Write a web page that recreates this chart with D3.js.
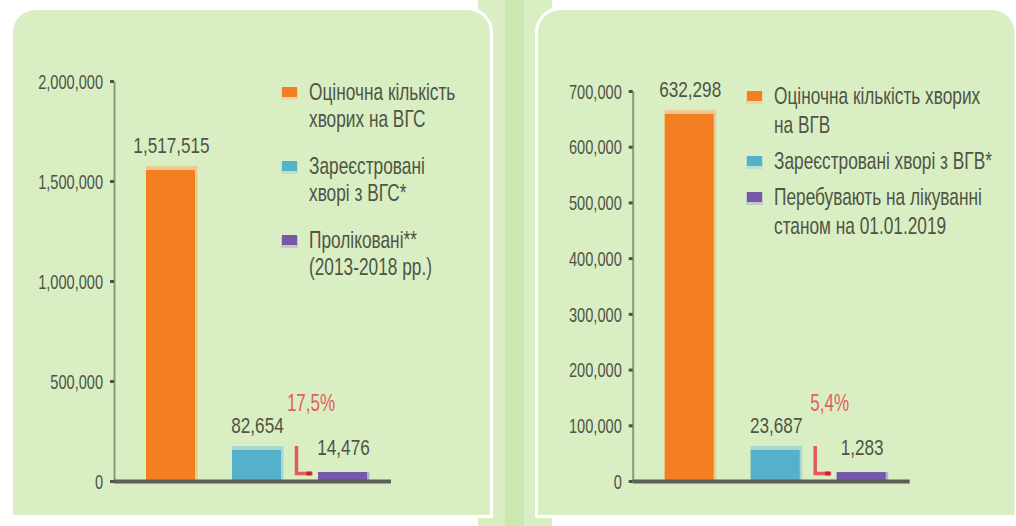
<!DOCTYPE html>
<html>
<head>
<meta charset="utf-8">
<script src="https://cdn.jsdelivr.net/npm/d3@7"></script>
<style>
    body { margin: 0; background: #fff; }
    svg text { font-family: 'Liberation Sans', Arial, sans-serif; }
</style>
</head>
<body>
<svg id="chart" width="1016" height="526"></svg>
<script>
// left panel: hepatitis C
const legendC = [['Оціночна кількість', 'хворих на ВГС'], ['Зареєстровані', 'хворі з ВГС*'], ['Проліковані**', '(2013-2018 рр.)']];
const valuesC = [1517515, 82654, 14476];
// bar heights as drawn in the picture (read off the axis, not the printed values)
const barsC = [1555000, 155000, 45000];
const ticksC = [0, 500000, 1000000, 1500000, 2000000];
const shareC = '17,5%';

// right panel: hepatitis B
const legendB = [['Оціночна кількість хворих', 'на ВГВ'], ['Зареєстровані хворі з ВГВ*'], ['Перебувають на лікуванні', 'станом на 01.01.2019']];
const valuesB = [632298, 23687, 1283];
const barsB = [659000, 55700, 16000];
const ticksB = [0, 100000, 200000, 300000, 400000, 500000, 600000, 700000];
const shareB = '5,4%';

const colors = ['#f47f20', '#55b1c9', '#7657a8'];
const halos = ['#eacb94', '#a6d8d2', '#b3b0c9'];
const haloTop = [4, 4, 0];
const textColor = '#4f5446';
const bg = '#d9efc3';

let svg = d3.select('#chart');
let fmt = d3.format(',');

function panelPath(x0, y0, x1, y1, r) {
    return `M${x0},${y1}V${y0 + r}A${r},${r} 0 0 1 ${x0 + r},${y0}H${x1 - r}A${r},${r} 0 0 1 ${x1},${y0 + r}V${y1}Z`;
}

function drawBackground() {
    svg.append('rect').attr('x', 478).attr('y', 0).attr('width', 74).attr('height', 526).style('fill', bg);
    svg.append('rect').attr('x', 505).attr('y', 0).attr('width', 19).attr('height', 526).style('fill', '#cbe8b1');
    svg.append('path').attr('d', panelPath(11.5, 8.5, 491.5, 516.5, 24))
        .style('fill', bg).style('stroke', '#fff').style('stroke-width', 3);
    svg.append('path').attr('d', panelPath(536.5, 8.5, 1016, 516.5, 24))
        .style('fill', bg).style('stroke', '#fff').style('stroke-width', 3);
}

function label(g, x, y, txt, size, sx, color, anchor) {
    g.append('text')
        .attr('transform', `translate(${x},${y}) scale(${sx},1)`)
        .attr('text-anchor', anchor || 'middle')
        .style('font-size', size + 'px')
        .style('fill', color || textColor)
        .text(txt);
}

function drawPanel(p) {
    let g = svg.append('g');
    let y = d3.scaleLinear().domain([0, p.max]).range([481, 481 - p.pxPerUnit * p.max]);
    let x = d3.scaleBand().domain(d3.range(p.bars.length))
        .range([p.axisX + 13.5, p.axisX + 271.5])
        .paddingInner(0.43).paddingOuter(0.215);

    // axis
    let axis = g.append('g').attr('transform', `translate(${p.axisX},0)`)
        .call(d3.axisLeft(y).tickValues(p.ticks).tickFormat(fmt).tickSize(4).tickSizeOuter(0));
    axis.attr('font-family', null).attr('font-size', null);
    axis.select('.domain').style('stroke', '#8d9879').style('stroke-width', 2);
    axis.selectAll('.tick line').style('stroke', '#4f5346').style('stroke-width', 3);
    axis.selectAll('.tick text')
        .attr('x', -15).attr('dy', '0.36em')
        .attr('transform', 'scale(0.73,1)')
        .style('font-size', '20px').style('fill', textColor);

    // bars with pale edge
    g.append('g').selectAll('rect').data(p.bars).join('rect')
        .attr('x', (d, i) => x(i))
        .attr('y', (d, i) => y(d) - haloTop[i])
        .attr('width', x.bandwidth() + 2.5)
        .attr('height', (d, i) => 481 - y(d) + haloTop[i])
        .style('fill', (d, i) => halos[i]);
    g.append('g').selectAll('rect').data(p.bars).join('rect')
        .attr('x', (d, i) => x(i))
        .attr('y', d => y(d))
        .attr('width', x.bandwidth())
        .attr('height', d => 481 - y(d))
        .style('fill', (d, i) => colors[i]);

    // baseline
    g.append('rect').attr('x', p.axisX).attr('y', 479.5).attr('width', 277).attr('height', 4).style('fill', '#5c6052');

    // value labels
    p.values.forEach((v, i) => {
        label(g, x(i) + x.bandwidth() / 2 + 1, y(p.bars[i]) - 17, fmt(v), 22, 0.78);
    });

    // red L-shaped arrow between 2nd and 3rd bars
    let ax = x(1) + x.bandwidth() + 15.5;
    g.append('path')
        .attr('d', `M${ax},${446}V${473.5}H${ax + 16}`)
        .style('fill', 'none').style('stroke', '#e25a5c').style('stroke-width', 3.5);
    g.append('rect').attr('x', ax + 10).attr('y', 471.5).attr('width', 5).attr('height', 4).style('fill', '#d81e2a');
    label(g, ax + 14.5, 411, p.share, 23, 0.74, '#e0605c');

    // legend
    let ly = p.legendY;
    p.legend.forEach((lines, i) => {
        g.append('rect').attr('x', p.legendX - 1).attr('y', ly - 12).attr('width', 17).attr('height', 12).style('fill', halos[i]).style('opacity', 0.6);
        g.append('rect').attr('x', p.legendX).attr('y', ly - 13).attr('width', 15).attr('height', 10).style('fill', colors[i]);
        lines.forEach((t, j) => {
            label(g, p.legendX + 27, ly + j * p.lineH, t, 24, 0.72, textColor, 'start');
        });
        ly += (lines.length - 1) * p.lineH + p.gap;
    });
}

function init() {
    drawBackground();
    drawPanel({
        axisX: 114, max: 2000000, pxPerUnit: 400 / 2000000, ticks: ticksC,
        bars: barsC, values: valuesC, share: shareC,
        legend: legendC, legendX: 282, legendY: 100, lineH: 27, gap: 47
    });
    drawPanel({
        axisX: 632.7, max: 700000, pxPerUnit: 390 / 700000, ticks: ticksB,
        bars: barsB, values: valuesB, share: shareB,
        legend: legendB, legendX: 747, legendY: 104, lineH: 29, gap: 36
    });
}

init();
</script>
</body>
</html>
